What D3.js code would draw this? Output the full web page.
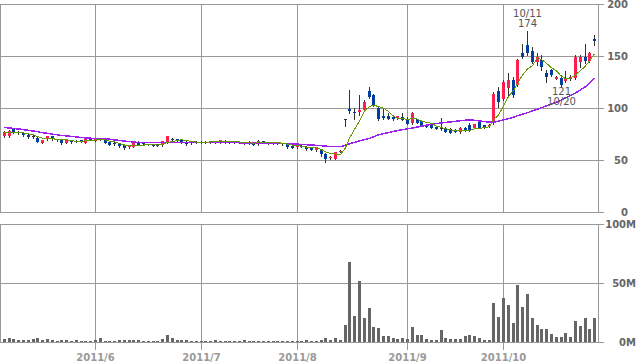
<!DOCTYPE html>
<html>
<head>
<meta charset="utf-8">
<script src="https://cdn.jsdelivr.net/npm/d3@7"></script>
<style>
body { margin: 0; background: #fff; }
svg { display: block; }
.axis text { font-family: "DejaVu Sans", sans-serif; font-size: 10px; font-weight: bold; fill: #666; }
.axis line { stroke: #999; shape-rendering: crispEdges; }
.axis path { display: none; }
.xaxis text { fill: #999; }
.note { font-family: "DejaVu Sans", sans-serif; font-size: 10px; fill: #555; text-anchor: middle; }
</style>
</head>
<body>
<svg id="chart"></svg>
<script>
// daily prices, 2011/5/2 - 2011/10/31
const dates = ["5/2","5/6","5/9","5/10","5/11","5/12","5/13","5/16","5/17","5/18","5/19","5/20","5/23","5/24","5/25","5/26","5/27","5/30","5/31",
  "6/1","6/2","6/3","6/6","6/7","6/8","6/9","6/10","6/13","6/14","6/15","6/16","6/17","6/20","6/21","6/22","6/23","6/24","6/27","6/28","6/29","6/30",
  "7/1","7/4","7/5","7/6","7/7","7/8","7/11","7/12","7/13","7/14","7/15","7/19","7/20","7/21","7/22","7/25","7/26","7/27","7/28","7/29",
  "8/1","8/2","8/3","8/4","8/5","8/8","8/9","8/10","8/11","8/12","8/15","8/16","8/17","8/18","8/19","8/22","8/23","8/24","8/25","8/26","8/29","8/30","8/31",
  "9/1","9/2","9/5","9/6","9/7","9/8","9/9","9/12","9/13","9/14","9/15","9/16","9/20","9/21","9/22","9/26","9/27","9/28","9/29","9/30",
  "10/3","10/4","10/5","10/6","10/7","10/11","10/12","10/13","10/14","10/17","10/18","10/19","10/20","10/21","10/24","10/25","10/26","10/27","10/28","10/31"];

const opens = [73,73,80,77,75.5,74.5,73,71.5,66.5,70,
  73,70,69,66.5,68.5,68,69,66.5,70,68.5,
  69.8,69,67.6,66.5,66,64.4,62.2,62.8,67.6,66.3,
  65.2,65,64,64,67,70,69.8,69,67.6,66,
  67.5,66.3,67.3,67,66.5,66.8,68.5,68,67,67.5,
  66.8,67.5,66.6,65,68,66.8,66.3,65.5,66,65.4,
  63.8,62.2,63.5,62.8,61.8,59.2,60.3,55.5,52,50.8,
  58,89,98.8,95.8,96,98,116,112.5,100,92,
  92.6,91,90,91.6,89,85.5,89,87.5,83.6,83.6,
  82,80.8,80.8,80,79,77,80.8,83.6,80.8,87.5,
  83.6,82.5,85.6,116.6,109,119,127,122,153,160.6,
  155,144,146,134,136.5,128,128.5,126,127.6,128.5,
  144.5,149,145.5,166.7];

const highs = [78,78.5,81,78,76,75,74.5,72,69.5,73.5,
  73.5,70.5,69.5,69.5,69,69.5,69.5,70.5,71,71.5,
  70.5,69.5,68,67.5,66.5,64.8,63.8,67,68,66.8,
  65.8,65.5,65,68.5,73.5,71.5,70.3,69.5,68,68.5,
  68,68,68,68,68.3,69.5,69,68.5,67.5,68,
  67.3,68,67,69,68.5,67.5,67,66.8,66.5,66,
  64.3,64.8,64,63.3,62.3,62.5,61,56.5,54,58,
  59.5,89.2,117,100,112.5,108,120.5,113,101,99,
  95,92,92.5,95,91,96.5,89.5,88.5,84,84,
  82.5,90,81.5,80.5,79.5,81.5,81.3,85.5,85,88.5,
  84,85,115,120,127,134,130,147,162,174,
  159,152.6,151,136.5,137.5,131,131.7,136,131.5,151,
  151,161.5,154,170.5];

const lows = [72,72,76,75,73.5,71.5,71,67,66,69.5,
  69.5,68,65.5,66,66.5,67,67.5,66,69,68,
  69,66.5,64,64.5,62.5,60.5,61.8,62.5,64.2,64.5,
  64.3,63,63.5,63.5,66.8,68.3,68,66.8,64.8,65.5,
  66.5,66,66.5,66.5,66.2,66.5,66,66.5,66.5,66.5,
  65.8,65.8,64,64.8,66,65.8,65.5,65,64.8,62,
  61.5,61.8,62.5,60,59.3,58.8,53.8,48.4,51,50.5,
  57.5,82.7,95,89,93,97,109.6,102,88.5,89,
  89,88,89.5,88,84.5,84.5,85.5,82.5,81.5,80.3,
  79.5,79,76.5,75.8,76.8,76.3,77.8,78.3,80.3,80.3,
  81,82,85,101,108,112.5,111,121,148,151,
  143,141,136.5,125,131,127.5,121,125,127,127.7,
  139.7,143,144.5,160.6];

const closes = [77,78,76,75.5,74,72,73,67.5,69,73,
  70,68.8,66.5,69,68,68,68,70,69.5,70.8,
  69.3,66.8,64.5,65.8,63,61.8,63.3,66.6,64.6,65,
  64.8,63.5,64.3,68,73.2,70,68.5,67.2,65.2,68,
  67,67.5,67,67.4,67.8,69,66.8,67,67,66.8,
  66.5,66.2,64.6,68.5,66.5,66.3,66,66.3,65.3,62.5,
  62,64.2,63,60.5,59.8,62,55.6,51,53,57.4,
  58.5,89,97.4,95.3,98,106,111,103,89,90.2,
  89.7,89.3,92,88.5,85,95,86,83,82,80.8,
  80,80.5,77,76.2,77.2,80.8,78.3,78.8,84.6,80.8,
  81.7,84,113.5,106,125,127,112.5,146,148.7,152.6,
  144.5,148.7,139,129.5,131.7,130,122,129,130,149,
  149,145.5,153,164];

// volume, millions of shares
const volumes = [2.5,3.4,2.5,1.7,1.7,1.7,2.5,3.4,1.7,2.5,
  1.7,0.8,1.7,1.7,0.8,1.7,0.8,0.8,0.8,1.7,
  3.4,0.8,0.8,0.8,1.7,1.7,1.7,1.7,1.7,0.8,
  0.8,0.8,0.8,2.5,6,3.4,1.7,1.7,1.7,0.8,
  0.8,0.5,0.8,0.8,1.7,0.8,0.8,0.8,0.8,0.8,
  1.7,0.8,0.8,0.8,0.8,0.8,0.8,0.8,0.8,0.8,
  0.8,0.8,0.8,1.7,0.8,0.8,1.5,3.4,1.7,3.4,
  1.7,14.5,68,22,52,20.5,29,12.8,12,5,
  5,3.4,2.8,3.4,2.8,12.8,6,6,2.8,1.7,
  1.7,10,3.4,2.5,2.5,2.5,5,6,5,3.4,
  1.7,1.5,33,21,37,31,16,48,30,41,
  20.5,14.5,11,11,7,4.3,4.3,7.7,4.3,18,
  13.6,20.5,11,20.5];

// moving averages (5 day green, 25 day purple)
const ma5 = [76.5,76.8,76.8,76.5,76.1,75.1,74.1,72.4,71.1,70.9,
  70.5,69.7,69.5,69.5,68.5,68.1,67.9,68.6,68.7,69.3,
  69.5,69.3,68.2,67.4,65.9,64.4,63.7,64.1,63.9,64.3,
  64.9,64.9,64.4,65.1,66.8,67.8,68.8,69.4,68.8,67.8,
  67.2,67,66.9,67.4,67.3,67.7,67.6,67.6,67.5,67.3,
  66.8,66.7,66.2,66.5,66.5,66.4,66.4,66.7,66.1,65.3,
  64.4,64.1,63.4,62.4,61.9,61.9,60.2,57.8,56.3,55.8,
  55.1,61.8,71.1,79.5,87.6,97.1,101.5,102.7,101.4,99.8,
  96.6,92.2,90,89.9,88.9,90,89.3,87.5,86.2,85.4,
  82.4,81.3,80.1,78.9,78.2,78.3,77.9,78.3,79.9,80.7,
  80.8,82,88.9,93.2,102,111.1,116.8,123.3,131.8,137.4,
  140.9,148.1,146.7,142.9,138.7,135.8,130.4,128.4,128.5,132,
  135.8,140.5,145.3,152.1];

const ma25 = [81.2,80.8,80.4,79.8,79.2,78.5,77.8,77.2,76.2,75.6,
  74.8,74.2,73.6,73.2,72.6,72.2,71.6,71.2,70.9,70.8,
  70.7,70.5,70,69.3,68.8,68.1,67.8,67.2,66.9,66.8,
  66.7,66.7,66.8,66.9,67,67,67,66.9,66.8,66.7,
  66.6,66.6,66.6,66.7,66.8,66.9,66.9,66.8,66.7,66.6,
  66.5,66.4,66.3,66.2,66.2,66.1,66,65.9,65.8,65.6,
  65.4,65.2,65,64.7,64.4,64.1,63.7,63.3,63,62.9,
  62.9,64.2,65.6,66.9,68.3,69.6,70.8,72.4,74.1,75.4,
  76.3,77.4,78.3,79.2,80,80.8,81.7,82.6,83.4,84.3,
  85,85.6,86.1,86.6,87.2,87.8,88.3,88.4,88.2,87.6,
  87,86.4,86.2,87.3,88.5,89.8,91.2,92.6,94,95.5,
  97.2,98.8,100.3,102,103.8,105.6,107.8,109.8,112,114.5,
  117.4,120.5,124,128.5];

const monthStarts = ["6/1", "7/1", "8/1", "9/1", "10/3"];
const monthLabels = ["2011/6", "2011/7", "2011/8", "2011/9", "2011/10"];
const priceTicks = [0, 50, 100, 150, 200];
const volumeTicks = [0, 50, 100];
const notes = [{ date: "10/11", kind: "high" }, { date: "10/20", kind: "low" }];

const width = 638, height = 362;
const priceTop = 4, priceBottom = 212, volTop = 224, volBottom = 342;
const frameRight = 598.5, tickEnd = 604;

const svg = d3.select("#chart").attr("width", width).attr("height", height);

const x = d3.scalePoint().domain(dates).range([3.8, 594.2]);
const px = d => Math.round(x(d));
const y = d3.scaleLinear().domain([0, 200]).range([priceBottom, priceTop]);
const yVol = d3.scaleLinear().domain([0, 100]).range([volBottom, volTop]);
const monthX = d3.scaleOrdinal(monthStarts, monthStarts.map(px));

// price grid + right labels
svg.append("g")
    .attr("class", "axis")
    .attr("transform", "translate(" + tickEnd + ",0)")
    .call(d3.axisRight(y).tickValues(priceTicks).tickSize(-(tickEnd - 0.5)).tickFormat(d3.format("d")))
    .selectAll("text").attr("x", 24).attr("text-anchor", "end");

// volume grid + right labels
svg.append("g")
    .attr("class", "axis")
    .attr("transform", "translate(" + tickEnd + ",0)")
    .call(d3.axisRight(yVol).tickValues(volumeTicks).tickSize(-(tickEnd - 0.5)).tickFormat(d => d + "M"))
    .selectAll("text").attr("x", 32).attr("text-anchor", "end");

// month lines in price panel
svg.append("g").selectAll("line")
    .data(monthStarts)
    .join("line")
    .attr("x1", d => monthX(d) + 0.5).attr("x2", d => monthX(d) + 0.5)
    .attr("y1", priceTop).attr("y2", priceBottom)
    .attr("stroke", "#999").attr("shape-rendering", "crispEdges");

// month axis under the volume panel
svg.append("g")
    .attr("class", "axis xaxis")
    .attr("transform", "translate(0," + volTop + ")")
    .call(d3.axisBottom(monthX).tickValues(monthStarts).tickSize(350 - volTop).tickFormat((d, i) => monthLabels[i]))
    .selectAll("text").attr("y", 361 - volTop).attr("dy", null);

// frames
[[priceTop, priceBottom], [volTop, volBottom]].forEach(p => {
    svg.append("rect")
        .attr("x", 0.5).attr("y", p[0] + 0.5)
        .attr("width", frameRight - 0.5).attr("height", p[1] - p[0])
        .attr("fill", "none").attr("stroke", "#999")
        .attr("shape-rendering", "crispEdges");
});

const idx = d3.range(dates.length);

// volume bars
svg.append("g").selectAll("rect")
    .data(idx)
    .join("rect")
    .attr("x", i => px(dates[i]) - 1)
    .attr("width", 3)
    .attr("y", i => Math.round(yVol(volumes[i])))
    .attr("height", i => volBottom - Math.round(yVol(volumes[i])))
    .attr("fill", "#666")
    .attr("shape-rendering", "crispEdges");

// candles
const candle = svg.append("g").selectAll("g")
    .data(idx)
    .join("g")
    .attr("shape-rendering", "crispEdges");

candle.append("line")
    .attr("x1", i => px(dates[i]) + 0.5).attr("x2", i => px(dates[i]) + 0.5)
    .attr("y1", i => Math.round(y(highs[i])))
    .attr("y2", i => Math.round(y(lows[i])) + 1)
    .attr("stroke", "#333");

candle.append("rect")
    .attr("x", i => px(dates[i]) - 1)
    .attr("width", 3)
    .attr("y", i => Math.round(y(Math.max(opens[i], closes[i]))))
    .attr("height", i => Math.max(1, Math.round(y(Math.min(opens[i], closes[i]))) - Math.round(y(Math.max(opens[i], closes[i])))))
    .attr("fill", i => {
        if (Math.abs(closes[i] - opens[i]) < 0.3) return "#333";
        return closes[i] > opens[i] ? "#ff1f4f" : "#003f9f";
    });

// moving averages
function maLine(values) {
    return d3.line()
        .x((v, i) => px(dates[i]) + 0.5)
        .y(v => y(v))(values);
}

svg.append("path")
    .attr("d", maLine(ma25))
    .attr("fill", "none").attr("stroke", "#a020f0").attr("stroke-width", 1.5)
    .attr("shape-rendering", "crispEdges");

svg.append("path")
    .attr("d", maLine(ma5))
    .attr("fill", "none").attr("stroke", "#669900").attr("stroke-width", 1)
    .attr("shape-rendering", "crispEdges");

// high / low notes
notes.forEach(n => {
    const i = dates.indexOf(n.date);
    const cx = px(n.date) + 0.5;
    if (n.kind === "high") {
        svg.append("text").attr("class", "note").attr("x", cx).attr("y", y(highs[i]) - 14).text(n.date);
        svg.append("text").attr("class", "note").attr("x", cx).attr("y", y(highs[i]) - 4).text(Math.round(highs[i]));
    } else {
        svg.append("text").attr("class", "note").attr("x", cx).attr("y", y(lows[i]) + 9).text(Math.round(lows[i]));
        svg.append("text").attr("class", "note").attr("x", cx).attr("y", y(lows[i]) + 19).text(n.date);
    }
});
</script>
</body>
</html>
